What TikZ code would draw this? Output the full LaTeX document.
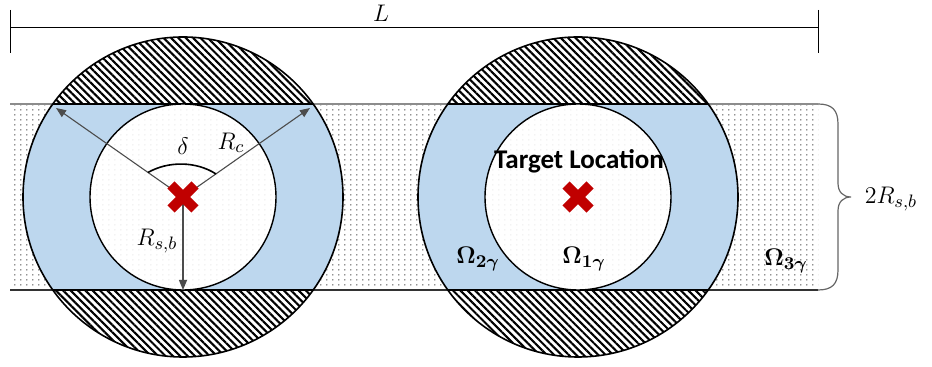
\documentclass[tikz,border=0pt]{standalone}
\usepackage{amsmath}
\usepackage[no-math]{fontspec}
\newfontfamily\calib{Carlito}
\usetikzlibrary{arrows.meta,patterns.meta}
\definecolor{bandblue}{HTML}{BDD7EE}
\definecolor{xred}{HTML}{C00000}
\tikzdeclarepattern{
  name=banddots,
  type=uncolored,
  bounding box={(0pt,0pt) and (3.15pt,2.5pt)},
  tile size={(3.15pt,2.5pt)},
  code={\fill (1.575pt,1.25pt) circle[radius=0.36pt];}
}
\begin{document}
\begin{tikzpicture}[x=0.5pt,y=-0.5pt,
  outerc/.style={draw=black,line width=0.8pt},
  innerc/.style={draw=black,line width=0.7pt},
  ray/.style={draw=black!70,line width=0.55pt,-{Triangle[length=5pt,width=4pt]}},
  mathlbl/.style={font=\fontsize{13}{15}\selectfont,inner sep=0pt},
  omegalbl/.style={font=\fontsize{12.5}{14}\selectfont,inner sep=0pt},
  hatchfill/.style={pattern={Lines[angle=-45,distance=2.6pt,line width=1.05pt]}},
  dotfill/.style={pattern=banddots,pattern color=black},
  faintdots/.style={pattern=banddots,pattern color=black!10},
  xmark/.style={draw=xred,line width=5pt},
  dimline/.style={draw=black,line width=0.5pt}
]
\useasboundingbox (0,0) rectangle (932,367);
\coordinate (c1) at (183,197);
\coordinate (c2) at (578,197);
% band
\fill[white] (10,104) rectangle (818,290);
\fill[dotfill] (10,104) rectangle (818,290);
\coordinate (bt1) at (10,104);
\coordinate (bt2) at (818,104);
\coordinate (bb1) at (10,290);
\coordinate (bb2) at (818,290);
\draw[black!45,line width=0.8pt] (bt1) -- (bt2);
\draw[black!80,line width=0.6pt] (bb1) -- (bb2);
% circles
\foreach \c in {c1,c2}{
  \begin{scope}
    \clip (\c) circle[radius=160];
    \fill[white] (0,0) rectangle (932,104);
    \fill[white] (0,290) rectangle (932,367);
    \fill[hatchfill] (0,0) rectangle (932,104);
    \fill[hatchfill] (0,290) rectangle (932,367);
    \fill[bandblue] (0,104) rectangle (932,290);
    \draw[line width=0.8pt] (0,104) -- (932,104) (0,290) -- (932,290);
  \end{scope}
  \fill[white] (\c) circle[radius=93];
  \fill[faintdots] (\c) circle[radius=93];
  \draw[innerc] (\c) circle[radius=93];
  \draw[outerc] (\c) circle[radius=160];
}
% brace
\draw[black!60,line width=0.6pt] (bt2) .. controls (832,104) and (838,110) .. (838,124)
  -- (838,183) .. controls (838,192) and (843,197) .. (851,197)
  .. controls (843,197) and (838,202) .. (838,211)
  -- (838,270) .. controls (838,284) and (832,290) .. (bb2);
\node[mathlbl,anchor=center] (twoR) at (891,199) {$2R_{s,b}$};
% dimension L
\coordinate (d1) at (10,28);
\coordinate (d2) at (818,28);
\draw[dimline] (d1) -- (d2);
\draw[dimline] (10,10) -- (10,53);
\draw[dimline] (818,10) -- (818,53);
\node[mathlbl] (L) at (381,13) {$L$};
% left circle rays
\coordinate (tipL) at (56,108);
\coordinate (tipR) at (310,108);
\coordinate (tipD) at (183,290);
\draw[ray] (c1) -- (tipL);
\draw[ray] (c1) -- (tipR);
\draw[ray] (c1) -- (tipD);
\coordinate (a1) at (148,172.5);
\coordinate (a2) at (216,174);
\draw[black,line width=0.8pt] (a1) .. controls (168,161) and (196,161) .. (a2);
\node[mathlbl] (delta) at (183,146) {$\delta$};
\node[mathlbl] (Rc) at (231,143) {$R_c$};
\node[mathlbl] (Rsb) at (157,241) {$R_{s,b}$};
% red crosses
\foreach \c in {c1,c2}{
  \draw[xmark] (\c) ++(-12,-12) -- ++(24,24);
  \draw[xmark] (\c) ++(-12,12) -- ++(24,-24);
}
% right circle labels
\node[font=\calib\bfseries\fontsize{13.5}{16}\selectfont,inner sep=0pt] (target) at (579,161) {Target Location};
\node[omegalbl] (om2) at (478,259) {$\mathbf{\Omega}_{\boldsymbol{2\gamma}}$};
\node[omegalbl] (om1) at (584,259) {$\mathbf{\Omega}_{\boldsymbol{1\gamma}}$};
\node[omegalbl] (om3) at (786,261) {$\mathbf{\Omega}_{\boldsymbol{3\gamma}}$};
\end{tikzpicture}
\end{document}
